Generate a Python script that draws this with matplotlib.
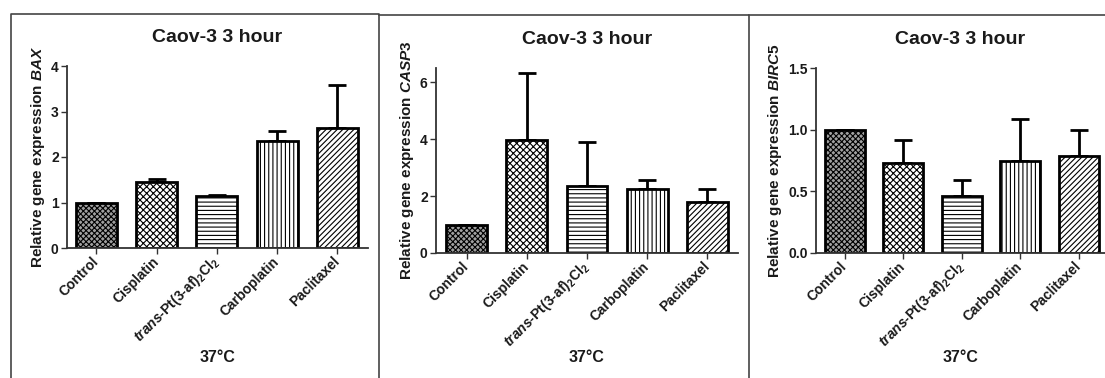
import matplotlib as mpl
mpl.use('Agg')
import numpy as np
import matplotlib.pyplot as plt
from matplotlib.lines import Line2D
from matplotlib.transforms import blended_transform_factory

mpl.rcParams['font.family'] = ['Liberation Sans', 'DejaVu Sans']
mpl.rcParams['font.weight'] = 'bold'
mpl.rcParams['mathtext.fontset'] = 'custom'
mpl.rcParams['mathtext.rm'] = 'Liberation Sans:bold'
mpl.rcParams['mathtext.it'] = 'Liberation Sans:italic:bold'
mpl.rcParams['mathtext.bf'] = 'Liberation Sans:bold'
mpl.rcParams['hatch.linewidth'] = 0.8

# data
groups = ['Control', 'Cisplatin', r'$\mathit{trans}$-Pt(3-af)$_2$Cl$_2$',
          'Carboplatin', 'Paclitaxel']
title = 'Caov-3 3 hour'
temp_label = '37°C'

bax = [1.0, 1.46, 1.14, 2.36, 2.63]
bax_err = [0.0, 0.06, 0.02, 0.21, 0.95]

casp3 = [1.0, 3.96, 2.36, 2.25, 1.78]
casp3_err = [0.0, 2.35, 1.54, 0.31, 0.46]

birc5 = [1.0, 0.73, 0.46, 0.75, 0.79]
birc5_err = [0.0, 0.19, 0.13, 0.34, 0.21]

genes = ['BAX', 'CASP3', 'BIRC5']
values = [bax, casp3, birc5]
errors = [bax_err, casp3_err, birc5_err]
ylims = [(0, 4), (0, 6.5), (0, 1.5)]
yticks = [[0, 1, 2, 3, 4], [0, 2, 4, 6], [0.0, 0.5, 1.0, 1.5]]
ytick_fmt = ['{:.0f}', '{:.0f}', '{:.1f}']

fills = ['#a0a0a0', 'white', 'white', 'white', 'white']
hatches = ['xxxxxx', 'xxxxx', '----', '||||', '//////']

W, H = 1105, 378
fig = plt.figure(figsize=(W / 100, H / 100), dpi=100)

# axes boxes in pixels: left, right, y of zero, y of top
boxes = [(67, 368, 248, 66), (436, 738, 253, 68), (816, 1105, 253, 68)]
xlims = [(-0.49, 4.51), (-0.51, 4.51), (-0.49, 4.45)]

ink = '#1a1a1a'
for i in range(3):
    l, r, yb, yt = boxes[i]
    ax = fig.add_axes([l / W, 1 - yb / H, (r - l) / W, (yb - yt) / H])
    x = np.arange(len(groups))
    ax.bar(x, values[i], width=0.68, color=fills, edgecolor='black',
           linewidth=2.0, hatch=hatches, zorder=2)
    ax.errorbar(x, values[i], yerr=[np.zeros(5), errors[i]], fmt='none',
                ecolor='black', elinewidth=2.0, capsize=6.5, capthick=2.0,
                zorder=1)
    ax.set_xlim(*xlims[i])
    ax.set_ylim(*ylims[i])
    ax.set_yticks(yticks[i])
    ax.set_yticklabels([ytick_fmt[i].format(v) for v in yticks[i]],
                       fontsize=10, fontweight='bold', color=ink)
    ax.set_xticks(x)
    ax.set_xticklabels(groups, rotation=45, ha='right', va='center',
                       rotation_mode='anchor', fontsize=10,
                       fontweight='bold', color=ink)
    ax.tick_params(axis='x', length=4, width=1.0, pad=4, color='#333333')
    ax.tick_params(axis='y', length=4, width=1.0, pad=2, color='#333333')
    for s in ['top', 'right']:
        ax.spines[s].set_visible(False)
    for s in ['left', 'bottom']:
        ax.spines[s].set_linewidth(1.3)
        ax.spines[s].set_color('#333333')
    ax.set_ylabel('Relative gene expression $\\mathit{%s}$' % genes[i],
                  fontsize=11, fontweight='bold', color=ink, labelpad=3)
    ax.set_title(title, fontsize=14, fontweight='bold', color=ink, pad=17)
    tr = blended_transform_factory(ax.transAxes, fig.transFigure)
    ax.text(0.5, 1 - 358 / H, temp_label, transform=tr, ha='center',
            va='center', fontsize=11.5, fontweight='bold', color=ink)

# panel frames
frame = '#444444'
for xs, ys in [([11, 11, 379, 379], [378, 14, 14, 378]),
               ([379, 749, 749], [15, 15, 378]),
               ([749, 1105], [15, 15])]:
    fig.add_artist(Line2D([v / W for v in xs], [1 - v / H for v in ys],
                          color=frame, linewidth=1.2,
                          transform=fig.transFigure))

fig.savefig('out.png', dpi=100)
